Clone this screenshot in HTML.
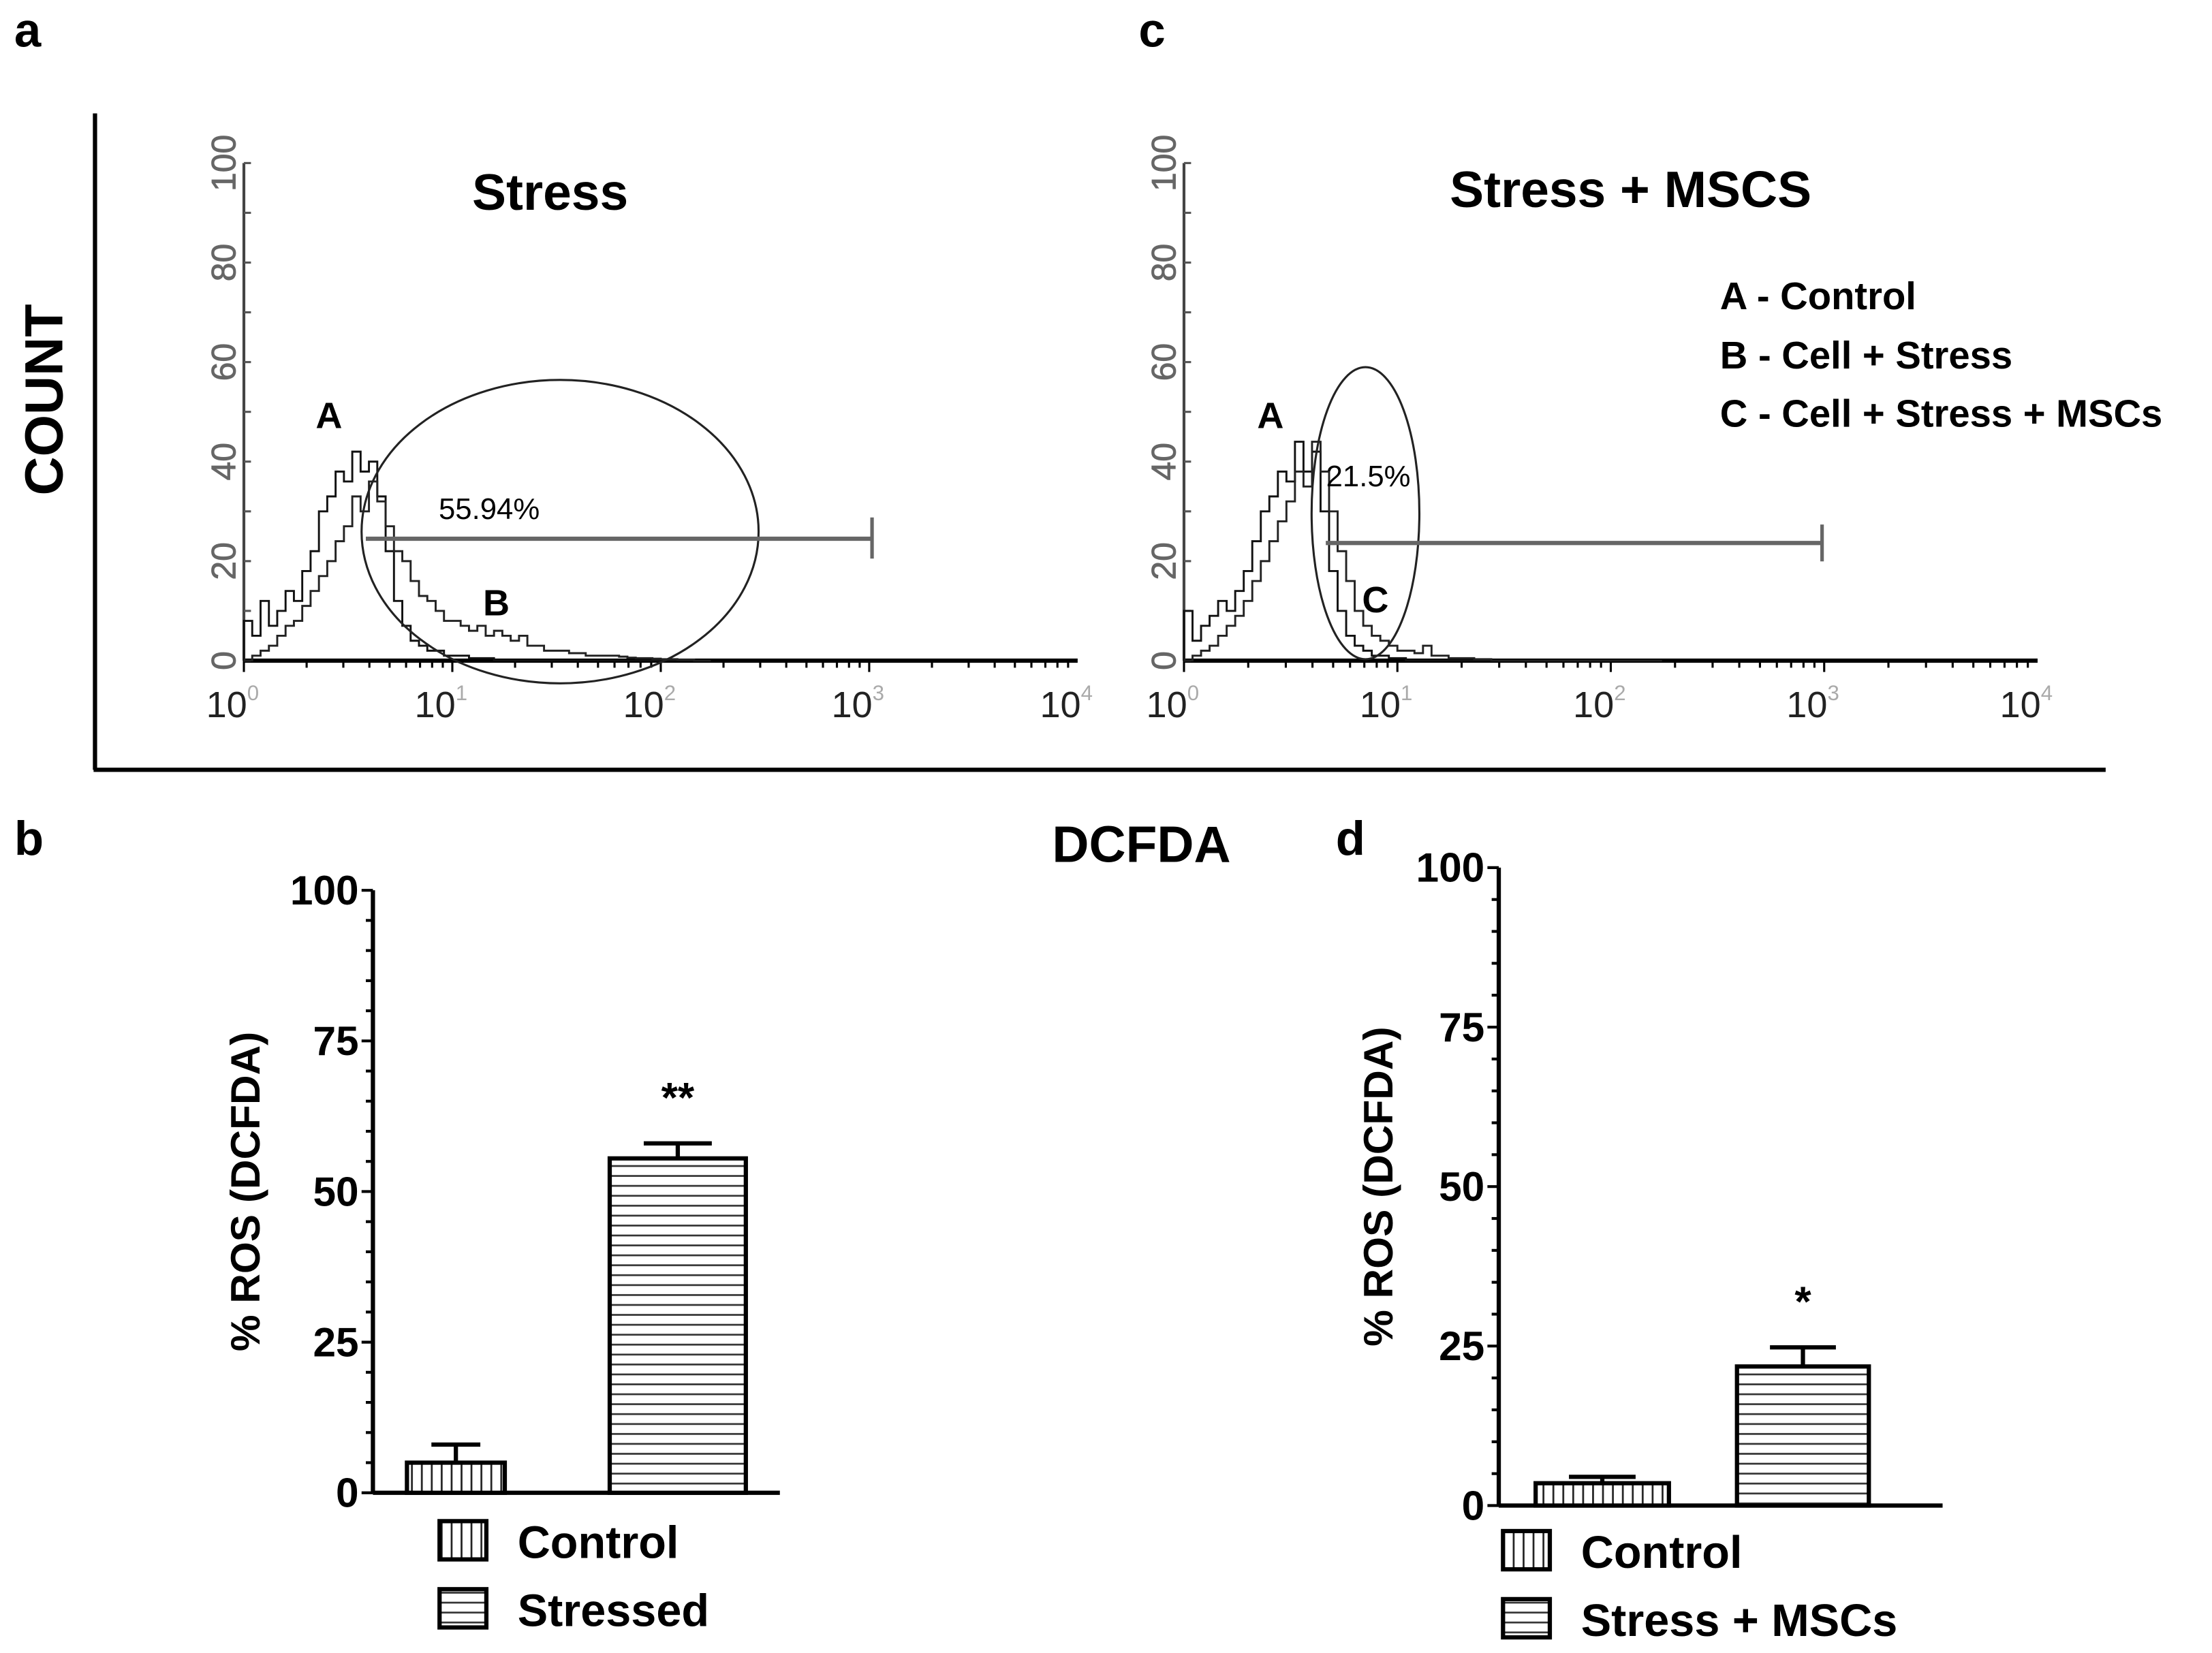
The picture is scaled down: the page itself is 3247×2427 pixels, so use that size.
<!DOCTYPE html>
<html><head><meta charset="utf-8"><style>
html,body{margin:0;padding:0;background:#fff}
svg{display:block}
text{font-family:"Liberation Sans",sans-serif}
</style></head><body>
<svg id="fig" xmlns="http://www.w3.org/2000/svg" width="3247" height="2427" viewBox="0 0 1560 1166">
<defs>
<pattern id="vh" width="7" height="10" patternUnits="userSpaceOnUse"><rect width="7" height="10" fill="#fff"/><line x1="3.5" y1="0" x2="3.5" y2="10" stroke="#222" stroke-width="1.3"/></pattern>
<pattern id="hh" width="10" height="7" patternUnits="userSpaceOnUse"><rect width="10" height="7" fill="#fff"/><line x1="0" y1="3.5" x2="10" y2="3.5" stroke="#333" stroke-width="1.3"/></pattern>
</defs>
<g id="labels" font-weight="bold">
<text x="10" y="33" font-size="34">a</text>
<text x="803" y="33" font-size="34">c</text>
<text x="10" y="603" font-size="34">b</text>
<text x="942" y="603" font-size="34">d</text>
<text x="805" y="608" font-size="36" text-anchor="middle">DCFDA</text>
<text transform="translate(44,282) rotate(-90)" font-size="38" text-anchor="middle">COUNT</text>
<text x="388" y="148" font-size="36" text-anchor="middle">Stress</text>
<text x="1150" y="146" font-size="36" text-anchor="middle">Stress + MSCS</text>
<text x="1213" y="218" font-size="27">A - Control</text>
<text x="1213" y="260" font-size="27">B - Cell + Stress</text>
<text x="1213" y="301" font-size="27">C - Cell + Stress + MSCs</text>
</g>
<line x1="67" y1="80" x2="67" y2="543" stroke="#000" stroke-width="3"/>
<line x1="66" y1="543" x2="1485" y2="543" stroke="#000" stroke-width="3"/>
<g id="hists"></g>
<g id="bars"></g>
</svg>
<script>
// histogram data: counts per bin, bins of 0.04 decade starting at 10^0
const histBinWidth = 0.04;
const controlA = [8,5,12,7,10,14,12,18,22,30,33,38,36,42,38,40,33,22,12,7,4,3,2,2,1,1,1,0.5,0.5,0.5,0,0,0,0,0,0,0,0,0,0,0,0,0,0,0,0,0,0,0,0,0,0,0,0,0,0];
const stressedB = [0,1,2,3,5,7,8,11,14,17,20,24,27,33,30,36,32,27,22,20,16,13,12,10,8,8,7,6,7,5,6,5,4,5,3,3,2,2,2,1.5,1.5,1,1,1,1,0.8,0.6,0.5,0.5,0.4,0.3,0.3,0.2,0.2,0,0];
const controlC = [10,4,7,9,12,10,14,18,24,30,33,38,36,44,38,42,30,18,10,5,3,2,1,1,0.5,0.5,0,0,0,0,0,0,0,0,0,0,0,0,0,0,0,0,0,0,0,0,0,0,0,0,0,0,0,0,0,0];
const mscC = [0,1,2,3,5,7,9,12,16,20,24,28,32,38,35,44,38,30,22,16,10,7,5,4,3,2,2,1.5,3,1,1,0.5,0.5,0.5,0.3,0.3,0,0,0,0,0,0,0,0,0,0,0,0,0,0,0,0,0,0,0,0];
const yTickLabels = ["0","20","40","60","80","100"];
const yTickValues = [0,20,40,60,80,100];
const xDecades = [0,1,2,3,4];
// bar data
const catsB = ["Control","Stressed"];
const valsB = [5,55.5];
const errsB = [3,2.5];
const catsD = ["Control","Stress + MSCs"];
const valsD = [3.5,21.8];
const errsD = [1,3];
const barTicks = [0,25,50,75,100];
const sigB = ["","**"];
const sigD = ["","*"];

const NS="http://www.w3.org/2000/svg";
function mk(tag,attrs,parent){const e=document.createElementNS(NS,tag);for(const k in attrs)e.setAttribute(k,attrs[k]);parent.appendChild(e);return e;}

function histPanel(g,o){
  const xs=v=>o.x0+(o.x1-o.x0)*v/4;
  const ys=v=>o.y0-(o.y0-o.y100)*v/100;
  const ax=mk('line',{x1:o.x0,y1:o.y0,x2:o.x1,y2:o.y0,stroke:'#000','stroke-width':3},g);
  
  
  const ay=mk('line',{x1:o.x0,y1:o.y0,x2:o.x0,y2:o.y100,stroke:'#444','stroke-width':2},g);
  
  
  for(let d=0;d<4;d++){for(let m=1;m<10;m++){const x=xs(d+Math.log10(m));const t=mk('line',{x1:x,y1:o.y0,x2:x,y2:o.y0+(m==1?8:5),stroke:'#000','stroke-width':1.5},g);}}
  xDecades.forEach(d=>{const t=mk('text',{x:xs(d)-8,y:o.y0+40,'font-size':26,fill:'#222','text-anchor':'middle'},g);t.textContent='10';const s=mk('tspan',{dy:-12,'font-size':15,fill:'#aaa'},t);s.textContent=String(d);});
  for(let v=0;v<=100;v+=10){const y=ys(v);const t=mk('line',{x1:o.x0,y1:y,x2:o.x0+5,y2:y,stroke:'#555','stroke-width':1.5},g);}
  yTickValues.forEach((v,i)=>{const t=mk('text',{transform:`translate(${o.x0-6},${ys(v)}) rotate(-90)`,'font-size':24,fill:'#666','text-anchor':'middle','stroke':'#666','stroke-width':0.4},g);t.textContent=yTickLabels[i];});
  o.series.forEach(sr=>{let d=`M${xs(0)},${ys(0)}`;sr.data.forEach((v,i)=>{const xa=xs(i*histBinWidth),xb=xs((i+1)*histBinWidth);d+=` L${xa},${ys(v)} L${xb},${ys(v)}`;});d+=` L${xs(sr.data.length*histBinWidth)},${ys(0)}`;const p=mk('path',{d:d,fill:'none',stroke:sr.color,'stroke-width':1.4},g);});
}
const hg=document.getElementById('hists');
histPanel(hg,{id:'hist-a',x0:172,x1:760,y0:466,y100:115,series:[{data:controlA,color:'#111',name:'histogram-control-a'},{data:stressedB,color:'#222',name:'histogram-stressed-b'}]});
histPanel(hg,{id:'hist-c',x0:835,x1:1437,y0:466,y100:115,series:[{data:controlC,color:'#111',name:'histogram-control-a'},{data:mscC,color:'#222',name:'histogram-msc-c'}]});
function hgEl(tag,attrs,name){const e=mk(tag,attrs,hg);return e;}
hgEl('ellipse',{cx:395,cy:375,rx:140,ry:107,fill:'none',stroke:'#222','stroke-width':1.5},'gate-ellipse-a');
hgEl('line',{x1:258,y1:380,x2:615,y2:380,stroke:'#666','stroke-width':3},'gate-marker-a');
hgEl('line',{x1:615,y1:365,x2:615,y2:394,stroke:'#666','stroke-width':2.5},'gate-marker-end-a');
hgEl('ellipse',{cx:963,cy:362,rx:38,ry:103,fill:'none',stroke:'#222','stroke-width':1.5},'gate-ellipse-c');
hgEl('line',{x1:935,y1:383,x2:1285,y2:383,stroke:'#666','stroke-width':3},'gate-marker-c');
hgEl('line',{x1:1285,y1:370,x2:1285,y2:396,stroke:'#666','stroke-width':2.5},'gate-marker-end-c');
[[345,366,'55.94%',21,'normal','gate-percent-a'],[965,343,'21.5%',21,'normal','gate-percent-c'],[232,302,'A',26,'bold','peak-label-a'],[350,434,'B',26,'bold','peak-label-b'],[896,302,'A',26,'bold','peak-label-a-c'],[970,432,'C',26,'bold','peak-label-c']].forEach(a=>{const t=hgEl('text',{x:a[0],y:a[1],'font-size':a[3],'font-weight':a[4],'text-anchor':'middle'},a[5]);t.textContent=a[2];});

function barPanel(g,o){
  const ys=v=>o.y0-(o.y0-o.y100)*v/100;
  const ax=mk('line',{x1:o.ax,y1:o.y0,x2:o.xr,y2:o.y0,stroke:'#000','stroke-width':3},g);
  
  const ay=mk('line',{x1:o.ax,y1:o.y0,x2:o.ax,y2:o.y100,stroke:'#000','stroke-width':3},g);
  
  for(let v=0;v<=100;v+=5){const t=mk('line',{x1:o.ax-(v%25==0?8:5),y1:ys(v),x2:o.ax,y2:ys(v),stroke:'#000','stroke-width':2},g);}
  barTicks.forEach(v=>{const t=mk('text',{x:o.ax-10,y:ys(v)+10,'font-size':29,'font-weight':'bold','text-anchor':'end'},g);t.textContent=String(v);});
  const yl=mk('text',{transform:`translate(${o.ylx},${(o.y0+o.y100)/2}) rotate(-90)`,'font-size':29,'font-weight':'bold','text-anchor':'middle'},g);
  yl.textContent='% ROS (DCFDA)';
  o.vals.forEach((v,i)=>{
    const x=o.bx[i],w=o.bw[i],fill=i==0?'url(#vh)':'url(#hh)';
    const cx=x+w/2;
    const e=mk('line',{x1:cx,y1:ys(v),x2:cx,y2:ys(v+o.errs[i]),stroke:'#000','stroke-width':3},g);
    const c=mk('line',{x1:cx-w*0.25,y1:ys(v+o.errs[i]),x2:cx+w*0.25,y2:ys(v+o.errs[i]),stroke:'#000','stroke-width':3},g);
    const r=mk('rect',{x:x,y:ys(v),width:w,height:o.y0-ys(v),fill:fill,stroke:'#000','stroke-width':3},g);
    
    if(o.sig[i]){const s=mk('text',{x:cx,y:ys(v+o.errs[i])-22,'font-size':30,'font-weight':'bold','text-anchor':'middle'},g);s.textContent=o.sig[i];}
    const ly=o.ly[i];
    const lb=mk('rect',{x:o.lx,y:ly,width:33,height:27,fill:fill,stroke:'#000','stroke-width':3},g);
    const lt=mk('text',{x:o.lx+55,y:ly+26,'font-size':32,'font-weight':'bold'},g);lt.textContent=o.cats[i];
  });
}
const bg=document.getElementById('bars');
barPanel(bg,{id:'chart-b',ax:263,xr:550,y0:1053,y100:628,ylx:183,cats:catsB,vals:valsB,errs:errsB,sig:sigB,bx:[287,430],bw:[69,96],lx:310,ly:[1073,1121]});
barPanel(bg,{id:'chart-d',ax:1057,xr:1370,y0:1062,y100:612,ylx:982,cats:catsD,vals:valsD,errs:errsD,sig:sigD,bx:[1083,1225],bw:[94,93],lx:1060,ly:[1080,1128]});
</script>
</body></html>
